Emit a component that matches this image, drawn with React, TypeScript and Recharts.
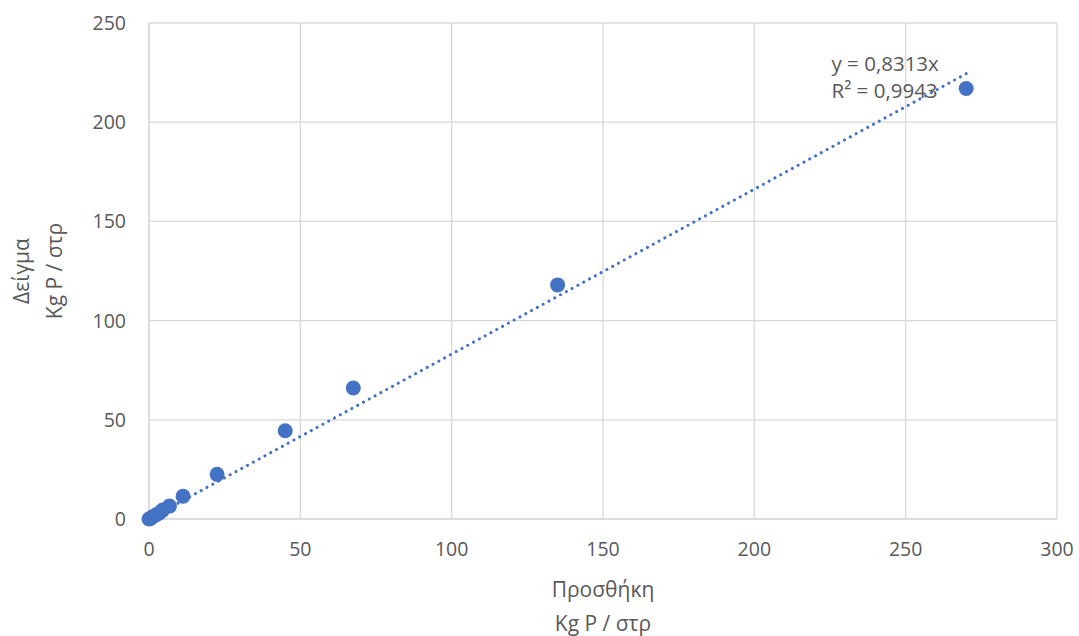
import {
  ScatterChart,
  Scatter,
  XAxis,
  YAxis,
  CartesianGrid,
  ReferenceDot,
} from 'recharts'

// added Kg P / στρ vs measured Kg P / στρ
const addedP = [0, 0.5, 1.1, 2.25, 3.4, 4.5, 6.75, 11.25, 22.5, 45, 67.5, 135, 270]
const sampleP = [0, 0.3, 1, 2, 3, 4.5, 6.5, 11.5, 22.5, 44.5, 66, 118, 217]

const slope = 0.8313
const rSquared = '0,9943'
const trendX = [0, 270]

const xTicks = [0, 50, 100, 150, 200, 250, 300]
const yTicks = [0, 50, 100, 150, 200, 250]

const points = addedP.map((x, i) => ({ x, y: sampleP[i] }))
const trend = trendX.map((x) => ({ x, y: slope * x }))

const BLUE = '#4472c4'
const TEXT = '#595959'
const GRID = '#d9d9d9'
const FONT = '"Open Sans", "Noto Sans", sans-serif'

const Dot = (props: any) => {
  const { cx, cy } = props
  if (cx == null || cy == null) return null
  return <circle cx={cx} cy={cy} r={7.5} fill={BLUE} />
}

const NoDot = () => null

const EquationLabel = (props: any) => {
  const { viewBox } = props
  if (!viewBox) return null
  const x = viewBox.x
  const y = viewBox.y
  return (
    <g fontFamily={FONT} fontSize={20.5} fill={TEXT}>
      <text x={x} y={y}>y = {String(slope).replace('.', ',')}x</text>
      <text x={x} y={y + 27}>R² = {rSquared}</text>
    </g>
  )
}

const YTitle = (props: any) => {
  const { viewBox } = props
  const cy = viewBox.y + viewBox.height / 2
  return (
    <g fontFamily={FONT} fontSize={21} fill={TEXT} textAnchor="middle">
      <text transform={`translate(29, ${cy}) rotate(-90)`}>Δείγμα</text>
      <text transform={`translate(62, ${cy}) rotate(-90)`}>Kg P / στρ</text>
    </g>
  )
}

const XTitle = (props: any) => {
  const { viewBox } = props
  const cx = viewBox.x + viewBox.width / 2
  return (
    <g fontFamily={FONT} fontSize={21} fill={TEXT} textAnchor="middle">
      <text x={cx} y={597}>Προσθήκη</text>
      <text x={cx} y={631}>Kg P / στρ</text>
    </g>
  )
}

export default function App() {
  return (
    <div style={{ position: 'absolute', left: 0, top: 0, background: '#fff' }}>
      <ScatterChart
        width={1079}
        height={636}
        margin={{ top: 23, right: 22, bottom: 0, left: 0 }}
        style={{ fontFamily: FONT }}
      >
        <CartesianGrid stroke={GRID} strokeWidth={1.3} />
        <XAxis
          type="number"
          dataKey="x"
          domain={[0, 300]}
          ticks={xTicks}
          tick={{ fontSize: 19.5, fill: TEXT, fontFamily: FONT }}
          tickLine={false}
          axisLine={{ stroke: GRID, strokeWidth: 1.3 }}
          tickMargin={17}
          height={117}
          label={<XTitle />}
        />
        <YAxis
          type="number"
          dataKey="y"
          domain={[0, 250]}
          ticks={yTicks}
          tick={{ fontSize: 19.5, fill: TEXT, fontFamily: FONT }}
          tickLine={false}
          axisLine={{ stroke: GRID, strokeWidth: 1.3 }}
          tickMargin={17}
          width={149}
          label={<YTitle />}
        />
        <Scatter
          data={trend}
          line={{ stroke: BLUE, strokeWidth: 3, strokeDasharray: '0.1 6.5', strokeLinecap: 'round' }}
          shape={<NoDot />}
          isAnimationActive={false}
        />
        <Scatter data={points} shape={<Dot />} isAnimationActive={false} />
        <ReferenceDot x={225.5} y={226} r={0} stroke="none" fill="none" label={<EquationLabel />} />
      </ScatterChart>
    </div>
  )
}
